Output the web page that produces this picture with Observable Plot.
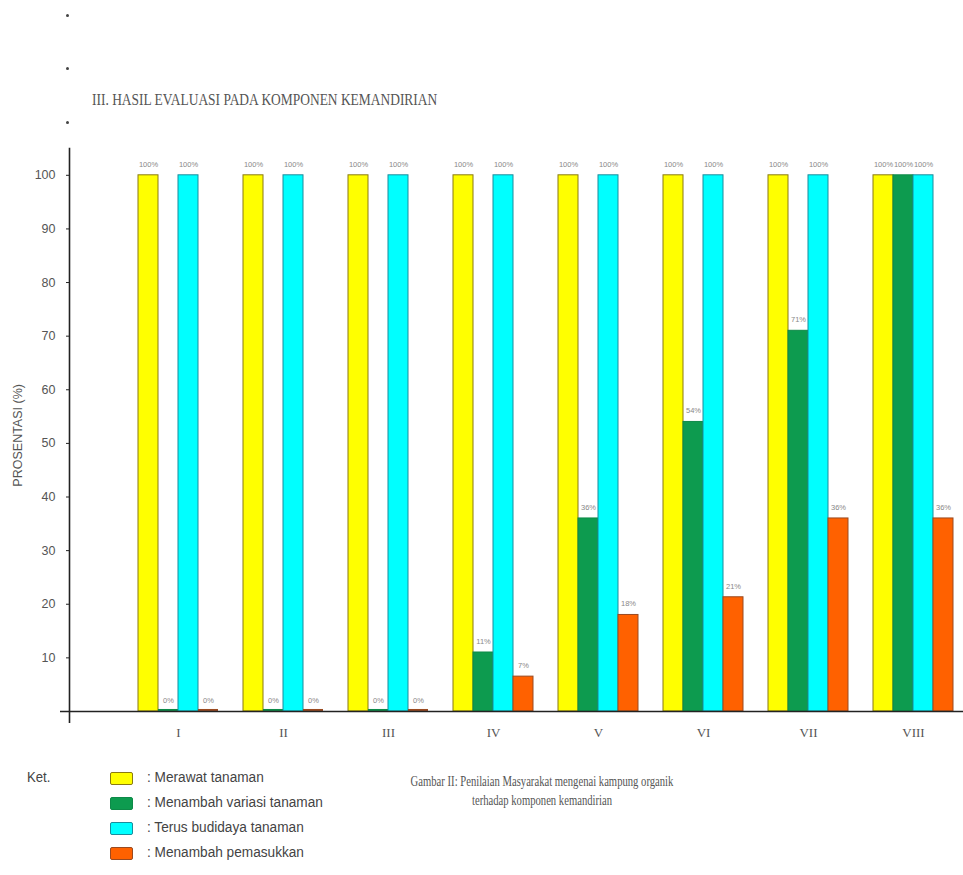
<!DOCTYPE html>
<html><head><meta charset="utf-8">
<script src="https://cdn.jsdelivr.net/npm/d3@7"></script>
<script src="https://cdn.jsdelivr.net/npm/@observablehq/plot@0.6"></script>
<style>
body{margin:0;background:#fff;}
#wrap{position:relative;width:963px;height:875px;overflow:hidden;background:#fff;}
#title{position:absolute;left:92px;top:91px;font-family:"Liberation Serif","Times New Roman",serif;font-size:16px;color:#555;white-space:nowrap;transform-origin:0 0;transform:scaleX(0.84);}
.dot{position:absolute;left:66px;width:3px;height:3px;border-radius:50%;background:#444;}
#chart{position:absolute;left:0;top:140px;}
#legend{position:absolute;left:0;top:768px;font-family:"Liberation Sans Narrow","Arial Narrow","Liberation Sans",sans-serif;font-size:15.5px;color:#444;}
.ket{position:absolute;left:27px;top:0px;white-space:nowrap;transform-origin:0 0;transform:scaleX(0.85);}
.item{position:absolute;left:110px;white-space:nowrap;height:16px;}
.sw{position:absolute;left:0;top:2px;width:21px;height:11px;border:1px solid;border-radius:2px;}
.lab{position:absolute;left:37px;top:-2px;transform-origin:0 0;transform:scaleX(0.88);}
#caption{position:absolute;left:542px;top:772px;width:0;font-family:"Liberation Serif","Times New Roman",serif;font-size:14px;color:#555;line-height:19px;}
#caption div{position:absolute;white-space:nowrap;transform:translateX(-50%) scaleX(0.76);}
</style></head><body><div id="wrap">
<div class="dot" style="top:14px"></div>
<div class="dot" style="top:67px"></div>
<div class="dot" style="top:121px"></div>
<div id="title">III. HASIL EVALUASI PADA KOMPONEN KEMANDIRIAN</div>
<div id="chart"></div>
<div id="legend"></div>
<div id="caption"><div style="top:0">Gambar II: Penilaian Masyarakat mengenai kampung organik</div><div style="top:19px">terhadap komponen kemandirian</div></div>
</div>
<script>
const groups = ["I", "II", "III", "IV", "V", "VI", "VII", "VIII"];
const seriesNames = ["Merawat tanaman", "Menambah variasi tanaman", "Terus budidaya tanaman", "Menambah pemasukkan"];
const merawat = [100, 100, 100, 100, 100, 100, 100, 100];
const variasi = [0, 0, 0, 11, 36, 54, 71, 100];
const budidaya = [100, 100, 100, 100, 100, 100, 100, 100];
const pemasukkan = [0, 0, 0, 6.5, 18, 21.3, 36, 36];
const yTicks = [10, 20, 30, 40, 50, 60, 70, 80, 90, 100];
const fills = ["#ffff00", "#0d9b4f", "#00ffff", "#ff6100"];
const strokes = ["#8a7a10", "#0d8a48", "#1a8c9c", "#9a4a20"];

const seriesValues = [merawat, variasi, budidaya, pemasukkan];
const rows = seriesValues.map((vals, k) => groups.map((g, i) => ({group: g, series: seriesNames[k], k, v: vals[i]})));

const W = 963, H = 620;
const bw = 80; // band width of each group (px)
const marks = [];
rows.forEach((data, k) => {
  const insetLeft = k * bw / 4, insetRight = (3 - k) * bw / 4;
  marks.push(Plot.barY(data, {x: "group", y: "v", fill: fills[k], stroke: strokes[k], strokeWidth: 1, insetLeft, insetRight}));
  marks.push(Plot.barY(data.filter(d => d.v === 0), {x: "group", y: "v", fill: strokes[k], insetLeft, insetRight, insetTop: -2}));
  marks.push(Plot.text(data, {x: "group", y: "v", text: d => Math.round(d.v) + "%", dx: (k - 1.5) * bw / 4, dy: -11, fontSize: 7.5, fill: "#888", fontFamily: "Liberation Sans, Arial, sans-serif"}));
});

const chart = Plot.plot({
  width: W, height: H,
  marginTop: 8, marginLeft: 69, marginRight: 3, marginBottom: H - 581.7,
  style: {background: "transparent", overflow: "visible"},
  x: {domain: groups, paddingInner: 0.239, paddingOuter: 0.358, align: 0.903, axis: null},
  y: {domain: [-2, 105], axis: null},
  marks: [
    ...marks,
    Plot.ruleY([0], {stroke: "#222", strokeWidth: 1.6, insetLeft: -9, insetRight: -3}),
    Plot.frame({anchor: "left", stroke: "#222", strokeWidth: 1.6}),
    Plot.axisY({ticks: yTicks, tickSize: 3, tickPadding: 11, fontSize: 12.5, fill: "#555", stroke: "#222", tickFormat: d => d,
      label: "PROSENTASI (%)", labelAnchor: "center", labelOffset: 56, labelArrow: "none", fontFamily: "Liberation Sans, Arial, sans-serif"}),
    Plot.axisX({tickSize: 0, tickPadding: 6, fontSize: 13, fill: "#555", fontFamily: "Liberation Serif, Times New Roman, serif", label: null})
  ]
});
document.getElementById("chart").appendChild(chart);

const legend = document.getElementById("legend");
legend.innerHTML = '<div class="ket">Ket.</div>' + seriesNames.map((n, k) =>
  `<div class="item" style="top:${2 + k * 25}px"><div class="sw" style="background:${fills[k]};border-color:${strokes[k]}"></div><div class="lab">: ${n}</div></div>`).join("");
</script>
</body></html>
